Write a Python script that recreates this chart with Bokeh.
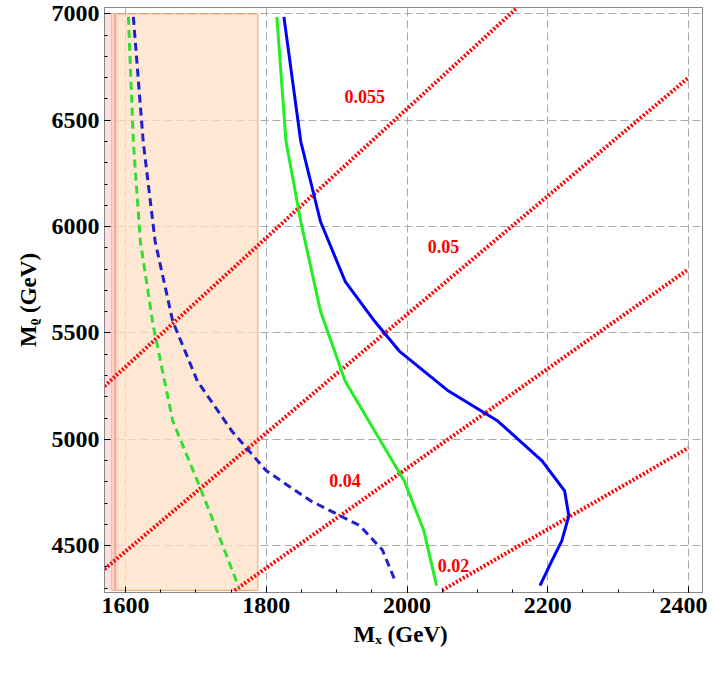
from bokeh.plotting import figure
from bokeh.embed import file_html
from bokeh.resources import INLINE
from bokeh.models import FixedTicker, Range1d
from bokeh.core.properties import value

blue_solid_x = [1825,1849,1877,1912,1954,1989,2059,2129,2192,2224,2230,2220,2206,2189]
blue_solid_y = [6986,6400,6024,5743,5555,5415,5227,5086,4899,4758,4640,4523,4430,4312]
green_solid_x = [1815,1828,1849,1877,1912,1954,1996,2024,2042]
green_solid_y = [6986,6400,6024,5602,5274,5039,4805,4570,4312]
blue_dash_x = [1611,1625,1642,1667,1702,1751,1800,1863,1933,1965,1983]
blue_dash_y = [6986,6400,5930,5555,5274,5039,4852,4711,4594,4480,4336]
green_dash_x = [1604,1611,1621,1639,1667,1702,1730,1761]
green_dash_y = [6986,6400,5930,5539,5086,4805,4570,4303]
red_lines = [([1570,2157],[5250,7030]),([1570,2400],[4390,6700]),([1755,2400],[4290,5800]),([2050,2400],[4290,4960])]
red_labels = ["0.055","0.05","0.04","0.02"]
red_label_x = [1940,2052,1912,2066]
red_label_y = [6610,5907,4805,4406]

p = figure(frame_width=598, frame_height=585, min_border_left=104, min_border_top=7,
           min_border_right=5, min_border_bottom=65, output_backend="svg", toolbar_location=None,
           x_range=Range1d(1570,2420), y_range=Range1d(4280,7030))
p.outline_line_color="#888888"
p.quad(left=1580,right=1788,bottom=4290,top=7000,fill_color="#fde0c5",fill_alpha=0.75,line_color="#f0a060",line_width=1)
p.quad(left=1570,right=1590,bottom=4290,top=7000,fill_color="#fcc8c8",fill_alpha=0.6,line_color=None)
p.segment(x0=[1585],y0=[4290],x1=[1585],y1=[7000],line_color="#f08040",line_width=1)
for xs,ys in red_lines:
    p.line(xs,ys,line_color="red",line_width=4,line_dash="2 2")
p.line(blue_solid_x,blue_solid_y,line_color="blue",line_width=3)
p.line(green_solid_x,green_solid_y,line_color="#22ee22",line_width=3)
p.line(blue_dash_x,blue_dash_y,line_color="#2020cc",line_width=3,line_dash="8 5")
p.line(green_dash_x,green_dash_y,line_color="#33dd33",line_width=3,line_dash="8 5")
p.text(red_label_x,red_label_y,text=red_labels,text_color="red",text_font=value("Liberation Serif"),
       text_font_style="bold",text_font_size="18px",text_align="center",text_baseline="middle")
p.xaxis.ticker=FixedTicker(ticks=[1600,1800,2000,2200,2400],minor_ticks=list(range(1550,2450,50)))
p.yaxis.ticker=FixedTicker(ticks=[4500,5000,5500,6000,6500,7000],minor_ticks=list(range(4300,7100,100)))
for ax in (p.xaxis,p.yaxis):
    ax.major_label_text_font="Liberation Serif"
    ax.major_label_text_font_style="bold"
    ax.major_label_text_font_size="24px"
    ax.major_label_text_color="black"
    ax.axis_label_text_font="Liberation Serif"
    ax.axis_label_text_font_style="bold"
    ax.axis_label_text_font_size="23px"
    ax.axis_label_text_color="black"
    ax.axis_line_color="#888888"
    ax.major_tick_in=6; ax.major_tick_out=0; ax.minor_tick_in=3; ax.minor_tick_out=0
p.xaxis.axis_label_standoff=6
p.yaxis.axis_label_standoff=8
p.xaxis.axis_label="Mₓ  (GeV)"
p.yaxis.axis_label="Mᵨ (GeV)"
p.grid.grid_line_color="#aaaaaa"
p.grid.grid_line_dash="8 4"
open("out.html","w").write(file_html(p,INLINE))
